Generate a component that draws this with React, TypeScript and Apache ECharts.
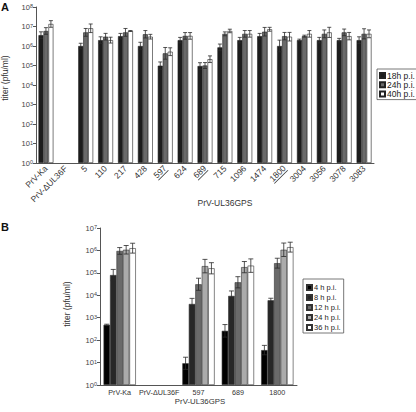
import React, { useEffect, useRef } from "react";
import * as echarts from "echarts";

const categoriesA = ["PrV-Ka", "PrV-ΔUL36F", "5", "110", "217", "428", "597", "624", "689", "715", "1096", "1474", "1800", "3004", "3056", "3078", "3083"];
const underlinedA = ["597", "689", "1800"];
const seriesNamesA = ["18h p.i.", "24h p.i.", "40h p.i."];
const h18 = [3.6e6, null, 1e6, 2e6, 3.2e6, 1e6, 9.8e4, 2e6, 9.4e4, 8.5e5, 2e6, 3.2e6, 1e6, 2e6, 2e6, 2e6, 2e6];
const h24 = [5.9e6, null, 5e6, 3e6, 5e6, 4e6, 4.2e5, 3.3e6, 1e5, 4.2e6, 4.2e6, 5.4e6, 3.2e6, 3.2e6, 4.2e6, 5e6, 4.2e6];
const h40 = [1.35e7, null, 8.1e6, 2e6, 5.9e6, 3e6, 5.1e5, 3.3e6, 2.1e5, 5.9e6, 4.2e6, 7.2e6, 3e6, 4.2e6, 5e6, 3.2e6, 4.2e6];
// error bar half-lengths in decades (log10 units)
const e18 = [0.17, null, 0.14, 0.17, 0.14, 0.19, 0.19, 0.14, 0.17, 0.17, 0.14, 0.14, 0.3, 0.05, 0.14, 0.09, 0.17];
const e24 = [0.17, null, 0.2, 0.17, 0.2, 0.19, 0.3, 0.17, 0.15, 0.1, 0.17, 0.22, 0.19, 0.05, 0.2, 0.17, 0.26];
const e40 = [0.17, null, 0.22, 0.15, 0.02, 0.12, 0.2, 0.17, 0.17, 0.09, 0.17, 0.1, 0.22, 0.17, 0.26, 0.19, 0.2];

const categoriesB = ["PrV-Ka", "PrV-ΔUL36F", "597", "689", "1800"];
const seriesNamesB = ["4 h p.i.", "8 h p.i.", "12 h p.i.", "24 h p.i.", "36 h p.i."];
const b4 = [4.8e2, null, 9.3, 2.6e2, 36];
const b8 = [8e4, null, 4.1e3, 9.4e3, 6e3];
const b12 = [9.5e5, null, 3.1e4, 3.8e4, 2.7e5];
const b24 = [1.07e6, null, 2e5, 1.8e5, 1.07e6];
const b36 = [1.26e6, null, 1.6e5, 2.1e5, 1.4e6];
const eb4 = [0.03, null, 0.27, 0.28, 0.21];
const eb8 = [0.25, null, 0.25, 0.22, 0.09];
const eb12 = [0.15, null, 0.27, 0.25, 0.22];
const eb24 = [0.19, null, 0.3, 0.25, 0.3];
const eb36 = [0.22, null, 0.25, 0.3, 0.22];

const FONT = "Liberation Sans, Arial, sans-serif";
const colorsA = ["#1c1c1c", "#6a6a6a", "#ffffff"];
const colorsB = ["#000000", "#272727", "#6a6a6a", "#ababab", "#ffffff"];
const LABEL_A_SIZE = 8.5;

function errSeries(gridIdx: number, vals: (number | null)[], errs: (number | null)[], idx: number, n: number, frac: number, cap: number) {
  const data: number[][] = [];
  vals.forEach((v, i) => {
    if (v != null && errs[i] != null) data.push([i, v, errs[i] as number]);
  });
  return {
    type: "custom",
    xAxisIndex: gridIdx,
    yAxisIndex: gridIdx,
    z: 5,
    silent: true,
    data,
    renderItem: (params: any, api: any) => {
      const ci = api.value(0);
      const v = api.value(1);
      const e = api.value(2);
      const c = api.coord([ci, v]);
      const bw = api.size([1, 0])[0] * frac;
      const x = c[0] + (idx - (n - 1) / 2) * bw;
      const top = api.coord([ci, v * Math.pow(10, e)])[1];
      const bot = api.coord([ci, v / Math.pow(10, e)])[1];
      const st = { stroke: "#2a2a2a", lineWidth: 0.8 };
      return {
        type: "group",
        children: [
          { type: "line", shape: { x1: x, y1: top, x2: x, y2: bot }, style: st },
          { type: "line", shape: { x1: x - cap, y1: top, x2: x + cap, y2: top }, style: st },
          { type: "line", shape: { x1: x - cap, y1: bot, x2: x + cap, y2: bot }, style: st },
        ],
      };
    },
  };
}

const yLabel = {
  fontSize: 7.5,
  color: "#444",
  fontFamily: FONT,
  margin: 3,
  formatter: (v: number) => "{b|10}{s|" + Math.round(Math.log10(v)) + "}",
  rich: {
    b: { fontSize: 7.5, lineHeight: 8, verticalAlign: "bottom", color: "#444", fontFamily: FONT },
    s: { fontSize: 5.5, lineHeight: 6, verticalAlign: "top", padding: [0, 0, 3, 0], color: "#444", fontFamily: FONT },
  },
};

const axisLineStyle = { lineStyle: { color: "#555", width: 1 } };

export default function App() {
  const ref = useRef<HTMLDivElement>(null);
  useEffect(() => {
    document.body.style.margin = "0";
    const chart = echarts.init(ref.current!, null, { renderer: "svg" });
    const valsA = [h18, h24, h40];
    const errsA = [e18, e24, e40];
    const valsB = [b4, b8, b12, b24, b36];
    const errsB = [eb4, eb8, eb12, eb24, eb36];
    const fracA = 0.25;
    const fracB = 0.164;
    const series: any[] = [];
    valsA.forEach((vals, i) => {
      series.push({
        type: "bar",
        name: seriesNamesA[i],
        xAxisIndex: 0,
        yAxisIndex: 0,
        data: vals.map((v) => (v == null ? "-" : v)),
        barWidth: fracA * 100 + "%",
        barGap: "0%",
        itemStyle: { color: colorsA[i], borderColor: "#222", borderWidth: 0.6 },
      });
    });
    valsB.forEach((vals, i) => {
      series.push({
        type: "bar",
        name: seriesNamesB[i],
        xAxisIndex: 1,
        yAxisIndex: 1,
        data: vals.map((v) => (v == null ? "-" : v)),
        barWidth: fracB * 100 + "%",
        barGap: "0%",
        itemStyle: { color: colorsB[i], borderColor: "#333", borderWidth: 0.6 },
      });
    });
    valsA.forEach((vals, i) => series.push(errSeries(0, vals, errsA[i], i, 3, fracA, 2)));
    valsB.forEach((vals, i) => series.push(errSeries(1, vals, errsB[i], i, 5, fracB, 2.5)));

    const legendBase = {
      orient: "vertical",
      itemWidth: 5,
      itemHeight: 5,
      borderColor: "#555",
      borderWidth: 0.8,
      borderRadius: 0,
      icon: "rect",
      selectedMode: false,
    };

    const measure = (s: string) => {
      const f = (echarts.format as any).getTextRect;
      return f ? f(s, LABEL_A_SIZE + "px " + FONT).width : s.length * LABEL_A_SIZE * 0.556;
    };
    const ulStyle = (s: string) => ({
      fontSize: 1,
      lineHeight: 0.8,
      height: 0.8,
      width: measure(s),
      backgroundColor: "#333",
      color: "rgba(0,0,0,0)",
    });
    const richA: any = { t: { fontSize: LABEL_A_SIZE, lineHeight: 9, color: "#333", fontFamily: FONT } };
    underlinedA.forEach((s, i) => {
      richA["ul" + i] = ulStyle(s);
    });

    chart.setOption({
      animation: false,
      textStyle: { fontFamily: FONT },
      grid: [
        { left: 36, top: 7, width: 338, height: 156 },
        { left: 100, top: 228, width: 197, height: 157 },
      ],
      xAxis: [
        {
          type: "category",
          gridIndex: 0,
          data: categoriesA,
          axisLine: axisLineStyle,
          axisTick: { length: 3, lineStyle: { color: "#555" } },
          axisLabel: {
            rotate: 45,
            interval: 0,
            fontSize: LABEL_A_SIZE,
            color: "#333",
            fontFamily: FONT,
            margin: 4,
            formatter: (v: string) => {
              const k = underlinedA.indexOf(v);
              return k >= 0 ? "{t|" + v + "}\n{ul" + k + "| }" : v;
            },
            rich: richA,
          },
        },
        {
          type: "category",
          gridIndex: 1,
          data: categoriesB,
          axisLine: axisLineStyle,
          axisTick: { length: 3, lineStyle: { color: "#555" } },
          axisLabel: { interval: 0, fontSize: 7.2, color: "#333", fontFamily: FONT, margin: 4 },
        },
      ],
      yAxis: [
        {
          type: "log",
          gridIndex: 0,
          logBase: 10,
          min: 1,
          max: 1e8,
          interval: 1,
          axisLine: { show: true, ...axisLineStyle },
          axisTick: { show: true, length: 3, lineStyle: { color: "#555" } },
          splitLine: { show: false },
          minorTick: { show: false },
          axisLabel: yLabel,
        },
        {
          type: "log",
          gridIndex: 1,
          logBase: 10,
          min: 1,
          max: 1e7,
          interval: 1,
          axisLine: { show: true, ...axisLineStyle },
          axisTick: { show: true, length: 3, lineStyle: { color: "#555" } },
          splitLine: { show: false },
          minorTick: { show: false },
          axisLabel: yLabel,
        },
      ],
      legend: [
        {
          ...legendBase,
          data: seriesNamesA,
          left: 377,
          top: 69,
          itemGap: 0.3,
          padding: [2, 2, 1, 2],
          textStyle: { fontSize: 8.5, color: "#222", fontFamily: FONT, lineHeight: 9, padding: [0, 0, 0, -3] },
        },
        {
          ...legendBase,
          data: seriesNamesB,
          left: 303,
          top: 279,
          itemGap: 1,
          padding: [4, 3, 1, 3],
          textStyle: { fontSize: 7.5, color: "#222", fontFamily: FONT, lineHeight: 9, padding: [0, 0, 0, -3] },
        },
      ],
      graphic: [
        { type: "text", left: 1, top: 1, style: { text: "A", font: "bold 11px " + FONT, fill: "#111" } },
        { type: "text", left: 1, top: 221, style: { text: "B", font: "bold 11px " + FONT, fill: "#111" } },
        { type: "text", x: 225, y: 203, style: { text: "PrV-UL36GPS", font: "8.5px " + FONT, fill: "#333", align: "center", verticalAlign: "middle" } },
        { type: "text", x: 200, y: 401, style: { text: "PrV-UL36GPS", font: "7.8px " + FONT, fill: "#333", align: "center", verticalAlign: "middle" } },
        { type: "text", x: 5, y: 78, rotation: Math.PI / 2, style: { text: "titer (pfu/ml)", font: "8.5px " + FONT, fill: "#333", align: "center", verticalAlign: "middle" } },
        { type: "text", x: 67, y: 304, rotation: Math.PI / 2, style: { text: "titer (pfu/ml)", font: "8.5px " + FONT, fill: "#333", align: "center", verticalAlign: "middle" } },
      ],
      series,
    });
    return () => chart.dispose();
  }, []);
  return <div ref={ref} style={{ width: 416, height: 412 }} />;
}
